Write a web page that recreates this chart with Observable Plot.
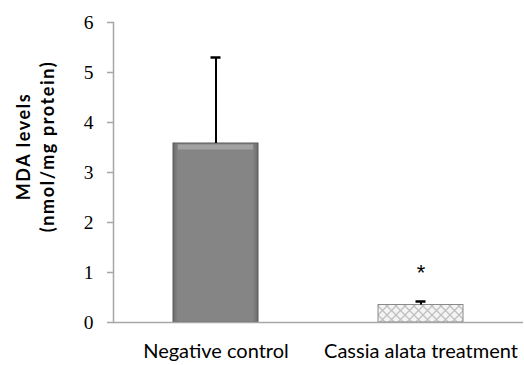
<!DOCTYPE html>
<html>
<head>
<meta charset="utf-8">
<script src="https://cdn.jsdelivr.net/npm/d3@7"></script>
<script src="https://cdn.jsdelivr.net/npm/@observablehq/plot@0.6"></script>
<style>
  body { margin: 0; background: #fff; }
  #chart svg { display: block; }
</style>
</head>
<body>
<div id="chart"></div>
<script>
const categories = ["Negative control", "Cassia alata treatment"];
const means = [3.58, 0.35];
const errors = [1.72, 0.07];
const significance = ["", "*"];
const yTicks = [0, 1, 2, 3, 4, 5, 6];

const data = categories.map((c, i) => ({
  cat: c, mean: means[i], err: errors[i], sig: significance[i],
  fill: i === 0 ? "url(#barGrad)" : "url(#hatch)",
  stroke: i === 0 ? "#5a5a5a" : "#8a8a8a",
  solid: i === 0
}));

const axisGray = "#a6a6a6";

const plot = Plot.plot({
  width: 524,
  height: 365,
  marginLeft: 113,
  marginRight: 1,
  marginTop: 22,
  marginBottom: 43,
  style: { background: "#fff", overflow: "visible" },
  x: { domain: categories, paddingInner: 0.586, paddingOuter: 0.29, label: null },
  y: { domain: [0, 6], label: null },
  marks: [
    Plot.axisY({ ticks: yTicks, tickFormat: d3.format("d"), tickSize: 6, stroke: axisGray, strokeWidth: 1.5,
      tickPadding: 14, fontSize: 19.5, fontFamily: "Liberation Serif", fill: "#000", label: null }),
    Plot.axisX({ tickSize: 0, tickPadding: 21, fontSize: 20, fontFamily: "Lato", fill: "#000", label: null }),
    Plot.frame({ anchor: "left", stroke: axisGray, strokeWidth: 1.5 }),
    Plot.barY(data, { x: "cat", y: "mean", fill: d => d.fill, stroke: d => d.stroke, strokeWidth: 1 }),
    Plot.tickY(data.filter(d => d.solid), { x: "cat", y: "mean", dy: 3.5, stroke: "#a2a2a2", strokeWidth: 5,
      insetLeft: 5, insetRight: 5 }),
    Plot.ruleY([0], { stroke: axisGray, strokeWidth: 1.5 }),
    Plot.ruleX(data, { x: "cat", y1: "mean", y2: d => d.mean + d.err, stroke: "#000", strokeWidth: 2 }),
    Plot.tickY(data, { x: "cat", y: d => d.mean + d.err, stroke: "#000", strokeWidth: 2.5,
      insetLeft: 37.5, insetRight: 37.5 }),
    Plot.text(data, { x: "cat", y: d => d.mean + d.err + 0.58, text: "sig", fontSize: 22,
      fontFamily: "Liberation Sans", fill: "#000" }),
    Plot.text(["MDA levels\n(nmol/mg protein)"], { y: [3.52], frameAnchor: "left", dx: -79, rotate: -90,
      textAnchor: "middle", lineAnchor: "middle",
      fontSize: 18, fontWeight: "bold", fontFamily: "Lato", lineHeight: 1.3, fill: "#000" })
  ]
});

const svg = d3.select(plot);
svg.selectAll("text").filter(function () { return this.textContent.includes("MDA"); })
  .attr("letter-spacing", 1.6);
const defs = svg.insert("defs", ":first-child");
const g = defs.append("linearGradient").attr("id", "barGrad").attr("x1", 0).attr("x2", 1).attr("y1", 0).attr("y2", 0);
[["0%", "#6a6a6a"], ["6%", "#858585"], ["94%", "#858585"], ["100%", "#6a6a6a"]].forEach(([o, c]) =>
  g.append("stop").attr("offset", o).attr("stop-color", c));
const p = defs.append("pattern").attr("id", "hatch").attr("patternUnits", "userSpaceOnUse")
  .attr("width", 9).attr("height", 9);
p.append("rect").attr("width", 9).attr("height", 9).attr("fill", "#f4f4f4");
p.append("path").attr("d", "M0,0 L9,9 M9,0 L0,9").attr("stroke", "#c0c0c0").attr("stroke-width", 1.3);

document.getElementById("chart").appendChild(plot);
</script>
</body>
</html>
